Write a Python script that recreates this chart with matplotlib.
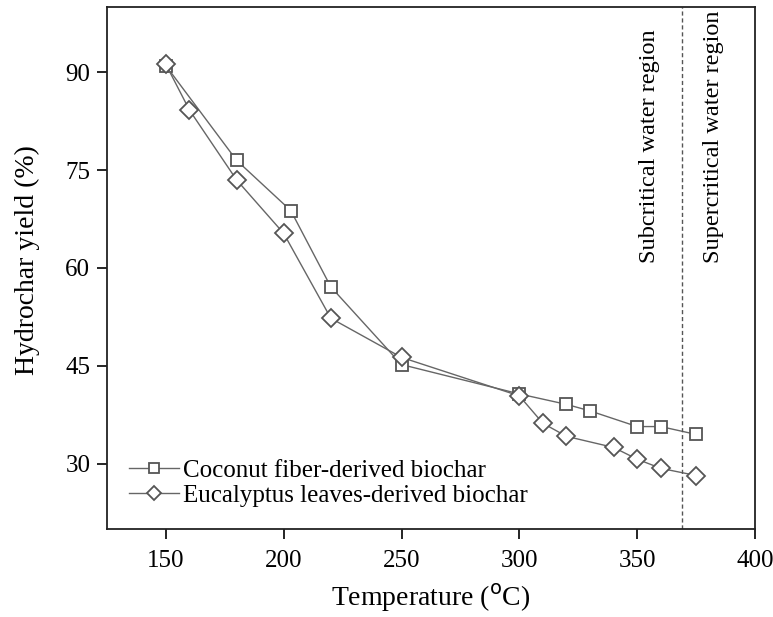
import matplotlib
matplotlib.use("Agg")
import matplotlib.pyplot as plt

coco_x = [150, 180, 203, 220, 250, 300, 320, 330, 350, 360, 375]
coco_y = [91.0, 76.5, 68.8, 57.1, 45.2, 40.7, 39.1, 38.1, 35.7, 35.7, 34.5]
euc_x = [150, 160, 180, 200, 220, 250, 300, 310, 320, 340, 350, 360, 375]
euc_y = [91.2, 84.2, 73.5, 65.3, 52.3, 46.3, 40.4, 36.2, 34.2, 32.5, 30.7, 29.3, 28.2]
x_ticks = [150, 200, 250, 300, 350, 400]
y_ticks = [30, 45, 60, 75, 90]
boundary = 369

plt.rcParams['font.family'] = ['Liberation Serif', 'DejaVu Serif']
fig = plt.figure(figsize=(7.73, 6.17), dpi=100)
ax = fig.add_axes([0.1384, 0.1426, 0.9767 - 0.1384, 0.9887 - 0.1426])

lc = '#666666'
mc = '#555555'
ax.plot(coco_x, coco_y, color=lc, lw=1.0, marker='s', ms=9, mfc='white',
        mec=mc, mew=1.3, label='Coconut fiber-derived biochar')
ax.plot(euc_x, euc_y, color=lc, lw=1.0, marker='D', ms=9, mfc='white',
        mec=mc, mew=1.3, label='Eucalyptus leaves-derived biochar')

ax.axvline(boundary, color='#555555', lw=1.0, ls=(0, (3, 2)))
ax.text(355.4, 60.8, 'Subcritical water region', rotation=90, ha='center', va='bottom', fontsize=17.5)
ax.text(382.5, 60.8, 'Supercritical water region', rotation=90, ha='center', va='bottom', fontsize=17.5)

ax.set_xlim(125, 400)
ax.set_ylim(20, 100)
ax.set_xticks(x_ticks)
ax.set_yticks(y_ticks)
ax.tick_params(direction='out', length=7, width=1.2, labelsize=18)
ax.tick_params(axis='x', pad=8)
ax.tick_params(axis='y', pad=5)
for s in ax.spines.values():
    s.set_linewidth(1.3)
    s.set_color('#222222')

ax.set_xlabel('Temperature ($^{\\mathrm{o}}$C)', fontsize=20, labelpad=7)
ax.set_ylabel('Hydrochar yield (%)', fontsize=20, labelpad=18)
ax.yaxis.label.set_y(0.515)

ax.legend(loc='lower left', bbox_to_anchor=(0.0, 0.0), frameon=False, fontsize=18,
          handlelength=2.0, handletextpad=0.15, borderaxespad=0.5, labelspacing=0.1,
          markerscale=0.75)

fig.savefig('out.png', dpi=100)
